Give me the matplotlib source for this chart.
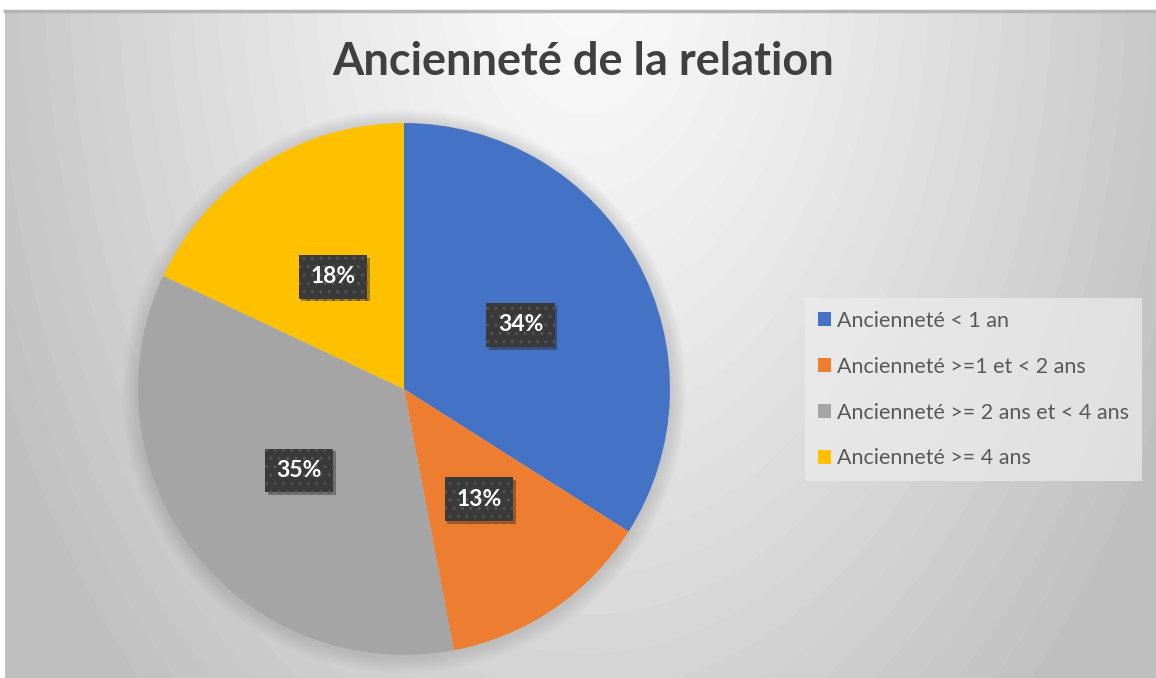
import numpy as np
import matplotlib
matplotlib.use("Agg")
import matplotlib.pyplot as plt
from matplotlib.patches import Circle, Patch
import matplotlib.patheffects as pe

title = "Ancienneté de la relation"
categories = ["Ancienneté < 1 an", "Ancienneté >=1 et < 2 ans",
              "Ancienneté >= 2 ans et < 4 ans", "Ancienneté >= 4 ans"]
values = [34, 13, 35, 18]
colors = ["#4472C4", "#ED7D31", "#A5A5A5", "#FFC000"]

W, H = 1156, 678
fig = plt.figure(figsize=(W / 100, H / 100), dpi=100)
fig.patch.set_facecolor("white")

# background panel with radial gradient
bx0, by0 = 5, 11  # pixel left, top
bg = fig.add_axes([bx0 / W, 0, 1 - bx0 / W, 1 - by0 / H])
bg.set_axis_off()
yy, xx = np.mgrid[by0:H, bx0:W]
d = np.sqrt(((xx - 585) / 640.0) ** 2 + ((yy + 40) / 1000.0) ** 2)
d = np.clip(d, 0, 1.0)
lvl = np.floor(d * 26) / 26
g = 250 - 58 * lvl ** 1.25
img = np.dstack([g, g, g]) / 255.0
bg.imshow(img, aspect="auto", extent=[0, 1, 0, 1], origin="upper")
bg.set_xlim(0, 1); bg.set_ylim(0, 1)
bg.plot([0, 1], [1, 1], color="#b5b5b5", lw=2.5, transform=bg.transAxes, clip_on=False)

# pie axes
cx, cy, r = 404, 389, 266
ax = fig.add_axes([(cx - r) / W, (H - cy - r) / H, 2 * r / W, 2 * r / H])
ax.set_axis_off()
# soft shadow
for i in range(12):
    rr = 1.0 + 0.005 * (12 - i)
    ax.add_patch(Circle((0, -0.01), rr, facecolor="#808080", alpha=0.025, lw=0, zorder=0))

wedges, texts, autotexts = ax.pie(values, colors=colors, startangle=90, counterclock=False,
                                  autopct="%1.0f%%", pctdistance=0.5, radius=1,
                                  wedgeprops=dict(linewidth=0),
                                  textprops=dict(color="white", fontsize=16.5, fontweight="bold",
                                                 family=["Lato", "DejaVu Sans"]))
for t in autotexts:
    t.set_bbox(dict(boxstyle="square,pad=0.5", facecolor="#3a3a3a", edgecolor="#555555",
                    hatch="..", lw=0))
    t.get_bbox_patch().set_path_effects([pe.SimplePatchShadow(offset=(2, -2), alpha=0.35),
                                         pe.Normal()])
ax.set_xlim(-1.08, 1.08)
ax.set_ylim(-1.08, 1.08)
ax.set_aspect("auto")
ax.set_position([(cx - r * 1.08) / W, (H - cy - r * 1.08) / H, 2 * r * 1.08 / W, 2 * r * 1.08 / H])

fig.text(583 / W, 1 - 62 / H, title, ha="center", va="center", fontsize=32.5,
         fontweight="bold", color="#404040", family=["Lato", "DejaVu Sans"])

handles = [Patch(facecolor=c, edgecolor="none") for c in colors]
leg = fig.legend(handles, categories, loc="upper left",
                 bbox_to_anchor=(805 / W, 1 - 298 / H), bbox_transform=fig.transFigure,
                 frameon=True, handlelength=0.6, handleheight=0.6,
                 handletextpad=0.3, labelspacing=1.2, borderpad=0.6, borderaxespad=0,
                 prop=dict(family=["Lato", "DejaVu Sans"], size=15.5))
for txt in leg.get_texts():
    txt.set_color("#595959")
fr = leg.get_frame()
fr.set_facecolor("#ececec")
fr.set_alpha(0.7)
fr.set_edgecolor("none")
fr.set_boxstyle("square", pad=0)

fig.savefig("out.png", dpi=100, facecolor="white")
